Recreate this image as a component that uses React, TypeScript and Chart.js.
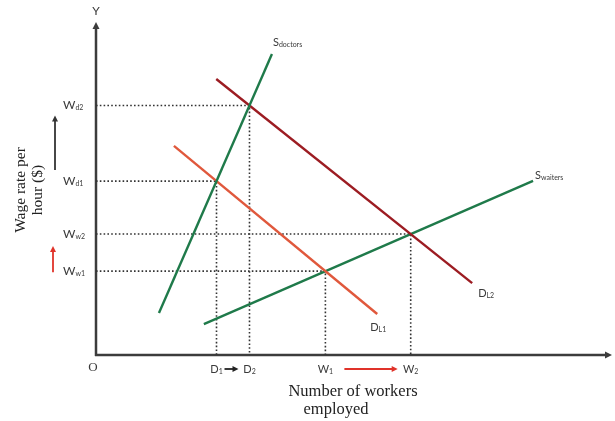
import React, { useEffect, useRef } from "react";
import { Chart, registerables } from "chart.js";
Chart.register(...registerables);

// Curves (x = number of workers, y = wage rate), arbitrary units 0..100
const supplyDoctors = [ { x: 12.2, y: 12.6 }, { x: 34.1, y: 90.4 } ];
const demandL2 = [ { x: 23.3, y: 82.9 }, { x: 72.9, y: 21.6 } ];
const demandL1 = [ { x: 15.1, y: 62.8 }, { x: 54.5, y: 12.3 } ];
const supplyWaiters = [ { x: 20.9, y: 9.3 }, { x: 84.7, y: 52.3 } ];

const wageLabels = ["W", "W", "W", "W"];
const wageSubs = ["d2", "d1", "w2", "w1"];
const qtyLabels = ["D", "D", "W", "W"];
const qtySubs = ["2", "1", "2", "1"];

type P = { x: number; y: number };
function intersect(a: P[], b: P[]): P {
  const [p1, p2] = a;
  const [p3, p4] = b;
  const d = (p1.x - p2.x) * (p3.y - p4.y) - (p1.y - p2.y) * (p3.x - p4.x);
  const t = ((p1.x - p3.x) * (p3.y - p4.y) - (p1.y - p3.y) * (p3.x - p4.x)) / d;
  return { x: p1.x + t * (p2.x - p1.x), y: p1.y + t * (p2.y - p1.y) };
}

const eqD2 = intersect(supplyDoctors, demandL2);
const eqD1 = intersect(supplyDoctors, demandL1);
const eqW2 = intersect(supplyWaiters, demandL2);
const eqW1 = intersect(supplyWaiters, demandL1);
const equilibria = [eqD2, eqD1, eqW2, eqW1];

const SANS = "Lato, 'Open Sans', sans-serif";
const SERIF = "'Liberation Serif', 'DejaVu Serif', serif";
const INK = "#3a3a3a";

function drawSub(ctx: CanvasRenderingContext2D, main: string, sub: string, x: number, y: number, mainSize: number, subSize: number, align: "left" | "center" | "right" = "left") {
  ctx.save();
  ctx.fillStyle = INK;
  ctx.textBaseline = "alphabetic";
  ctx.font = `${mainSize}px ${SANS}`;
  const mw = ctx.measureText(main).width;
  ctx.font = `${subSize}px ${SANS}`;
  const sw = ctx.measureText(sub).width;
  const total = mw + sw;
  let sx = x;
  if (align === "center") sx = x - total / 2;
  if (align === "right") sx = x - total;
  ctx.font = `${mainSize}px ${SANS}`;
  ctx.textAlign = "left";
  ctx.fillText(main, sx, y);
  ctx.font = `${subSize}px ${SANS}`;
  ctx.fillText(sub, sx + mw, y + 1);
  ctx.restore();
}

function arrow(ctx: CanvasRenderingContext2D, x1: number, y1: number, x2: number, y2: number, color: string, width: number, head: number) {
  const ang = Math.atan2(y2 - y1, x2 - x1);
  ctx.save();
  ctx.strokeStyle = color;
  ctx.fillStyle = color;
  ctx.lineWidth = width;
  ctx.beginPath();
  ctx.moveTo(x1, y1);
  ctx.lineTo(x2 - Math.cos(ang) * head * 0.8, y2 - Math.sin(ang) * head * 0.8);
  ctx.stroke();
  ctx.beginPath();
  ctx.moveTo(x2, y2);
  ctx.lineTo(x2 - head * Math.cos(ang) + (head * 0.5) * Math.sin(ang), y2 - head * Math.sin(ang) - (head * 0.5) * Math.cos(ang));
  ctx.lineTo(x2 - head * Math.cos(ang) - (head * 0.5) * Math.sin(ang), y2 - head * Math.sin(ang) + (head * 0.5) * Math.cos(ang));
  ctx.closePath();
  ctx.fill();
  ctx.restore();
}

const diagramPlugin = {
  id: "diagram",
  beforeDatasetsDraw(chart: any) {
    const ctx = chart.ctx as CanvasRenderingContext2D;
    const xs = chart.scales.x;
    const ys = chart.scales.y;
    const ox = xs.getPixelForValue(0);
    const oy = ys.getPixelForValue(0);
    arrow(ctx, ox, oy + 1, ox, ys.getPixelForValue(100), "#3c3c3c", 2.5, 7);
    arrow(ctx, ox - 1, oy, xs.getPixelForValue(100), oy, "#3c3c3c", 2.5, 7);
  },
  afterDatasetsDraw(chart: any) {
    const ctx = chart.ctx as CanvasRenderingContext2D;
    const xs = chart.scales.x;
    const ys = chart.scales.y;
    const ox = xs.getPixelForValue(0);
    const oy = ys.getPixelForValue(0);
    const px = (v: number) => xs.getPixelForValue(v);
    const py = (v: number) => ys.getPixelForValue(v);

    // Axis letters
    ctx.save();
    ctx.fillStyle = INK;
    ctx.font = `12px ${SANS}`;
    ctx.textAlign = "center";
    ctx.textBaseline = "middle";
    ctx.fillText("Y", ox, 11);
    ctx.font = `13px ${SERIF}`;
    ctx.fillText("O", ox - 3, oy + 13);
    ctx.restore();

    // Wage labels on y axis
    equilibria.forEach((e, i) => {
      drawSub(ctx, wageLabels[i], wageSubs[i], ox - 33, py(e.y) + 4, 12, 7);
    });
    // Quantity labels on x axis
    equilibria.forEach((e, i) => {
      drawSub(ctx, qtyLabels[i], qtySubs[i], px(e.x), oy + 18, 11, 7, "center");
    });

    // Curve labels
    const sd = supplyDoctors[1];
    drawSub(ctx, "S", "doctors", px(sd.x) + 1, py(sd.y) - 8, 11, 7);
    const sw = supplyWaiters[1];
    drawSub(ctx, "S", "waiters", px(sw.x) + 2, py(sw.y) - 2, 11, 7);
    const d2 = demandL2[1];
    drawSub(ctx, "D", "L2", px(d2.x) + 6, py(d2.y) + 14, 11, 7);
    const d1 = demandL1[1];
    drawSub(ctx, "D", "L1", px(d1.x) - 7, py(d1.y) + 17, 11, 7);

    // Shift arrows
    const d1x = px(eqD1.x), d2x = px(eqD2.x);
    arrow(ctx, d1x + 8, oy + 14, d2x - 11, oy + 14, "#222", 1.8, 6);
    const w1x = px(eqW1.x), w2x = px(eqW2.x);
    arrow(ctx, w1x + 19, oy + 14, w2x - 13, oy + 14, "#e0332a", 1.8, 6);
    arrow(ctx, ox - 41, py(eqD1.y) - 11, ox - 41, py(eqD2.y) + 10, "#333", 1.8, 6);
    arrow(ctx, ox - 43, py(eqW1.y) + 1, ox - 43, py(eqW2.y) + 12, "#e0332a", 1.8, 6);

    // Axis titles
    ctx.save();
    ctx.fillStyle = "#222";
    ctx.font = `16.5px ${SERIF}`;
    ctx.textAlign = "center";
    ctx.textBaseline = "middle";
    ctx.fillText("Number of workers", 353, oy + 37);
    ctx.fillText("employed", 336, oy + 55);
    ctx.font = `15.5px ${SERIF}`;
    ctx.translate(21, 190);
    ctx.rotate(-Math.PI / 2);
    ctx.fillText("Wage rate per", 0, 0);
    ctx.fillText("hour ($)", 0, 17);
    ctx.restore();
  },
};

export default function App() {
  const ref = useRef<HTMLCanvasElement>(null);
  useEffect(() => {
    if (!ref.current) return;
    const dotted = (pts: P[]) => ({
      data: pts,
      showLine: true,
      borderColor: "#333",
      borderWidth: 1.6,
      borderDash: [1.6, 2.2],
      pointRadius: 0,
      order: 2,
    });
    const solid = (pts: P[], color: string) => ({
      data: pts,
      showLine: true,
      borderColor: color,
      borderWidth: 2.4,
      pointRadius: 0,
      order: 1,
    });
    const guides = equilibria.map((e) => dotted([{ x: 0, y: e.y }, { x: e.x, y: e.y }, { x: e.x, y: 0 }]));
    const chart = new Chart(ref.current, {
      type: "scatter",
      data: {
        datasets: [
          solid(supplyDoctors, "#1f7a4a"),
          solid(demandL2, "#9c1c22"),
          solid(demandL1, "#e0583c"),
          solid(supplyWaiters, "#1f7a4a"),
          ...guides,
        ] as any,
      },
      options: {
        animation: false,
        responsive: false,
        layout: { padding: { left: 96, right: 3, top: 22, bottom: 66 } },
        plugins: { legend: { display: false }, tooltip: { enabled: false } },
        scales: {
          x: { type: "linear", min: 0, max: 100, display: false },
          y: { type: "linear", min: 0, max: 100, display: false },
        },
      },
      plugins: [diagramPlugin],
    });
    return () => chart.destroy();
  }, []);
  return (
    <div style={{ position: "absolute", left: 0, top: 0, width: 615, height: 421, background: "#fff" }}>
      <canvas ref={ref} width={615} height={421} />
    </div>
  );
}
